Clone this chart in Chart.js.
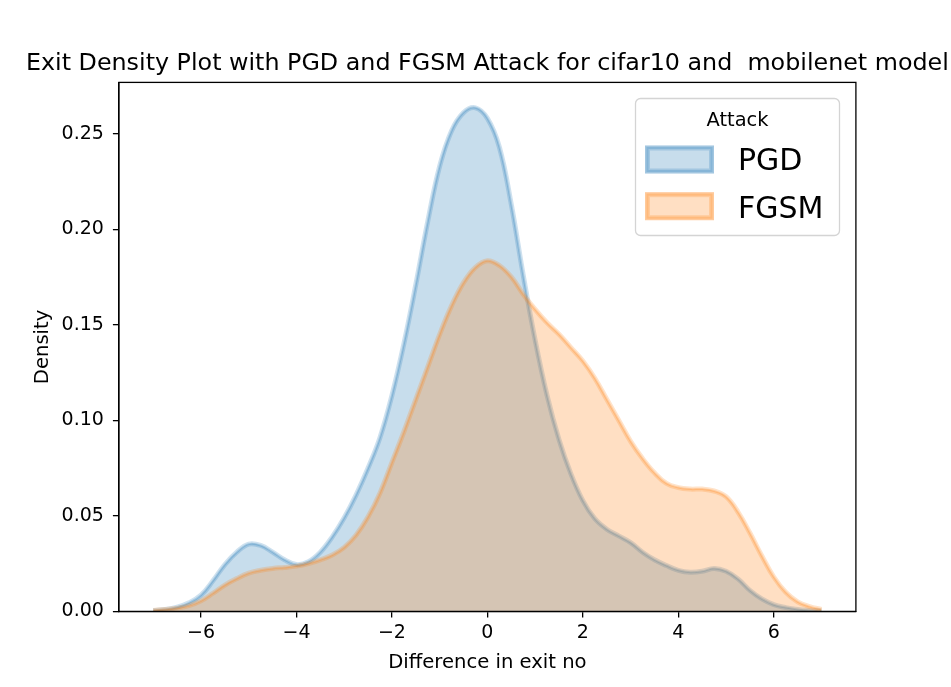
<!DOCTYPE html>
<html>
<head>
<meta charset="utf-8">
<script src="https://cdn.jsdelivr.net/npm/chart.js@4/dist/chart.umd.min.js"></script>
<style>
html,body{margin:0;padding:0;background:#fff;}
#wrap{width:951px;height:687px;position:relative;}
</style>
</head>
<body>
<div id="wrap"><canvas id="c"></canvas></div>
<script>
// ---- data ----
const exitDiff = [-7,-6.75,-6.5,-6.25,-6,-5.75,-5.5,-5.25,-5,-4.75,-4.5,-4.25,-4,-3.75,-3.5,-3.25,-3,-2.75,-2.5,-2.25,-2,-1.75,-1.5,-1.25,-1,-0.75,-0.5,-0.25,0,0.25,0.5,0.75,1,1.25,1.5,1.75,2,2.25,2.5,2.75,3,3.25,3.5,3.75,4,4.25,4.5,4.75,5,5.25,5.5,5.75,6,6.25,6.5,6.75,7];
const pgdDensity = [0.0005,0.001,0.0022,0.0045,0.0085,0.016,0.0245,0.031,0.0352,0.0345,0.031,0.027,0.0245,0.026,0.031,0.039,0.049,0.061,0.075,0.091,0.113,0.140,0.171,0.204,0.233,0.2515,0.261,0.2635,0.258,0.243,0.213,0.176,0.142,0.113,0.090,0.072,0.058,0.0485,0.043,0.0395,0.036,0.031,0.027,0.024,0.0215,0.0205,0.021,0.0225,0.021,0.017,0.011,0.0065,0.0035,0.002,0.001,0.0005,0.0002];
const fgsmDensity = [0.0005,0.001,0.0017,0.003,0.0055,0.0095,0.0138,0.0172,0.020,0.0215,0.0225,0.023,0.0237,0.025,0.027,0.0295,0.0335,0.040,0.0495,0.062,0.078,0.094,0.111,0.128,0.145,0.160,0.172,0.180,0.1835,0.181,0.175,0.166,0.158,0.151,0.145,0.138,0.131,0.122,0.111,0.100,0.089,0.080,0.0725,0.067,0.0648,0.064,0.064,0.063,0.060,0.052,0.041,0.029,0.018,0.010,0.005,0.0025,0.001];
const seriesNames = ['PGD', 'FGSM'];
const xTickValues = [-6,-4,-2,0,2,4,6];
const yTickValues = [0,0.05,0.10,0.15,0.20,0.25];
const titleText = 'Exit Density Plot with PGD and FGSM Attack for cifar10 and  mobilenet model';
const xAxisTitle = 'Difference in exit no';
const yAxisTitle = 'Density';
const legendTitle = 'Attack';

// ---- styles ----
const FONT = '"DejaVu Sans", sans-serif';
const blue = 'rgba(31,119,180,', orange = 'rgba(255,127,14,';
const toPts = (ys) => ys.map((y, i) => ({x: exitDiff[i], y}));

const datasets = [
  {label: seriesNames[0], data: toPts(pgdDensity), fill: 'origin', backgroundColor: blue + '0.25)', borderColor: blue + '0.22)', borderWidth: 5, order: 4, isMain: true},
  {label: seriesNames[0] + ' core', data: toPts(pgdDensity), fill: false, borderColor: blue + '0.25)', borderWidth: 2, order: 3},
  {label: seriesNames[1], data: toPts(fgsmDensity), fill: 'origin', backgroundColor: orange + '0.25)', borderColor: orange + '0.22)', borderWidth: 5, order: 2, isMain: true},
  {label: seriesNames[1] + ' core', data: toPts(fgsmDensity), fill: false, borderColor: orange + '0.25)', borderWidth: 2, order: 1}
];

const decor = {
  id: 'decor',
  afterDraw(chart) {
    const {ctx, chartArea: a} = chart;
    ctx.save();
    // frame (all four spines)
    ctx.strokeStyle = '#000';
    ctx.lineWidth = 1.3;
    ctx.strokeRect(a.left, a.top, a.right - a.left, a.bottom - a.top);
    ctx.fillStyle = '#000';
    // title
    ctx.font = '23.8px ' + FONT;
    ctx.textAlign = 'center';
    ctx.textBaseline = 'alphabetic';
    ctx.fillText(titleText, (a.left + a.right) / 2, a.top - 12.4);
    // axis titles
    ctx.font = '19.6px ' + FONT;
    ctx.fillText(xAxisTitle, (a.left + a.right) / 2, 667.5);
    ctx.save();
    ctx.translate(48, (a.top + a.bottom) / 2);
    ctx.rotate(-Math.PI / 2);
    ctx.fillText(yAxisTitle, 0, 0);
    ctx.restore();
    // legend
    ctx.beginPath();
    ctx.roundRect(635.5, 98.5, 204, 137, 5);
    ctx.fillStyle = 'rgba(255,255,255,0.8)';
    ctx.fill();
    ctx.strokeStyle = '#d4d4d4';
    ctx.lineWidth = 1.3;
    ctx.stroke();
    ctx.fillStyle = '#000';
    ctx.font = '19.4px ' + FONT;
    ctx.textAlign = 'center';
    ctx.fillText(legendTitle, 737.5, 125.5);
    const mains = chart.data.datasets.filter(d => d.isMain);
    mains.forEach((ds, i) => {
      const sy = 145.5 + i * 46.7;
      ctx.fillStyle = ds.backgroundColor;
      ctx.fillRect(645, sy, 69, 28);
      ctx.strokeStyle = ds.borderColor;
      ctx.lineWidth = 5;
      ctx.strokeRect(647.5, sy + 2.5, 64, 23);
      ctx.lineWidth = 2;
      ctx.strokeRect(647.5, sy + 2.5, 64, 23);
      ctx.fillStyle = '#000';
      ctx.font = '30px ' + FONT;
      ctx.textAlign = 'left';
      ctx.fillText(ds.label, 738, 170 + i * 48.3);
    });
    ctx.restore();
  }
};

new Chart(document.getElementById('c'), {
  type: 'line',
  data: {datasets},
  options: {
    responsive: true,
    maintainAspectRatio: false,
    animation: false,
    layout: {padding: {left: 0, top: 82.4, right: 95.1, bottom: 0}},
    elements: {point: {radius: 0, hoverRadius: 0}, line: {tension: 0.4, capBezierPoints: true}},
    plugins: {legend: {display: false}, title: {display: false}, tooltip: {enabled: false}},
    scales: {
      x: {
        type: 'linear', min: -7.72, max: 7.72,
        afterBuildTicks: (s) => { s.ticks = xTickValues.map(v => ({value: v})); },
        afterFit: (s) => { s.height = 75.6; },
        grid: {display: true, drawOnChartArea: false, drawTicks: true, tickLength: 6, color: '#000', lineWidth: 1.3},
        border: {display: true, color: '#000', width: 1.3},
        ticks: {color: '#000', font: {family: 'DejaVu Sans', size: 19}, padding: 4, maxRotation: 0,
          callback: (v) => (v < 0 ? '\u2212' + Math.abs(v) : String(v))}
      },
      y: {
        type: 'linear', min: 0, max: 0.2768,
        afterBuildTicks: (s) => { s.ticks = yTickValues.map(v => ({value: v})); },
        afterFit: (s) => { s.width = 118.9; },
        grid: {display: true, drawOnChartArea: false, drawTicks: true, tickLength: 6, color: '#000', lineWidth: 1.3},
        border: {display: true, color: '#000', width: 1.3},
        ticks: {color: '#000', font: {family: 'DejaVu Sans', size: 19}, padding: 9,
          callback: (v) => v.toFixed(2)}
      }
    }
  },
  plugins: [decor]
});
</script>
</body>
</html>
